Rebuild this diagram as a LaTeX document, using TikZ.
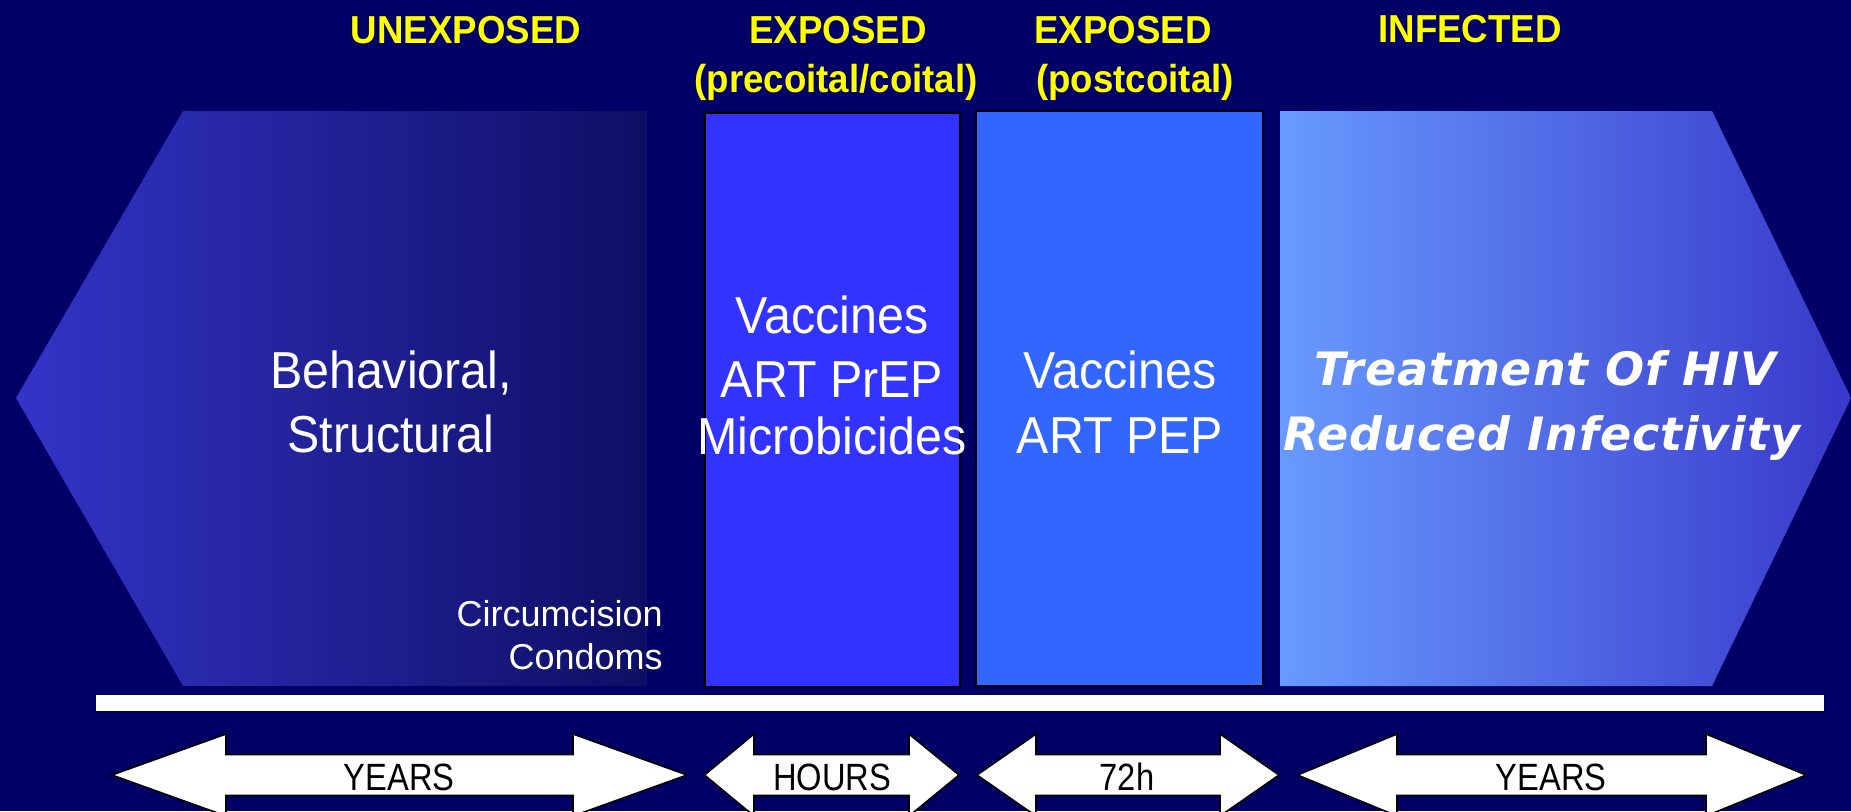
\documentclass[tikz,border=0pt]{standalone}
\usepackage{fontspec}
\setmainfont{Liberation Sans}
\newfontfamily\bodyfont[FakeStretch=0.93]{Liberation Sans}
\newfontfamily\smallfont{Liberation Sans}
\newfontfamily\headfont[FakeStretch=0.94]{Liberation Sans}
\newfontfamily\arrowfont[FakeStretch=0.86]{Liberation Sans}
\newfontfamily\italfont[LetterSpace=2]{DejaVu Sans}
\definecolor{bg}{RGB}{0,0,102}
\definecolor{hexL}{RGB}{52,52,200}
\definecolor{hexR}{RGB}{14,14,100}
\definecolor{boxA}{RGB}{51,51,255}
\definecolor{boxB}{RGB}{51,102,255}
\definecolor{penL}{RGB}{104,154,255}
\definecolor{penR}{RGB}{56,56,202}
\definecolor{headyellow}{RGB}{255,255,0}
\tikzset{
  phasebox/.style={draw=black, line width=1pt},
  timearrow/.style={fill=white, draw=black, line width=0.8pt, line join=miter},
  headtext/.style={text=headyellow, font=\headfont\bfseries\fontsize{19.5}{22}\selectfont, anchor=base, inner sep=0pt},
  bodytext/.style={text=white, font=\bodyfont\fontsize{26}{30}\selectfont, anchor=base, inner sep=0pt},
  smalltext/.style={text=white, font=\smallfont\fontsize{18}{21}\selectfont, anchor=base east, inner sep=0pt},
  italtext/.style={text=white, font=\italfont\bfseries\itshape\fontsize{23}{27}\selectfont, anchor=base, inner sep=0pt},
  arrowtext/.style={text=black, font=\arrowfont\fontsize{19}{22}\selectfont, anchor=base, inner sep=0pt}
}
\begin{document}
\begin{tikzpicture}[x=0.5pt,y=-0.5pt]
\fill[bg] (0,0) rectangle (1851,811);
\useasboundingbox (0,0) rectangle (1851,811);

% phase shapes
\shade[left color=hexL, right color=hexR] (16,398) -- (183,111) -- (647,111) -- (647,686) -- (183,686) -- cycle;
\fill[boxA] (705,113) rectangle (960,687);
\draw[phasebox] (705,113) rectangle (960,687);
\fill[boxB] (976,111) rectangle (1263,686);
\draw[phasebox] (976,111) rectangle (1263,686);
\shade[left color=penL, right color=penR] (1280,111) -- (1712,111) -- (1851,398) -- (1712,686) -- (1280,686) -- cycle;

% white timeline bar
\fill[white] (96,695) rectangle (1824,711);

% headings
\node[headtext] (unexp) at (466,43) {UNEXPOSED};
\node[headtext] (exp1) at (838,43) {EXPOSED};
\node[headtext] (exp1b) at (836,92) {(precoital/coital)};
\node[headtext] (exp2) at (1123,43) {EXPOSED};
\node[headtext] (exp2b) at (1135,92) {(postcoital)};
\node[headtext] (inf) at (1470,42) {INFECTED};

% texts in shapes
\node[bodytext] (beh1) at (391,388) {Behavioral,};
\node[bodytext] (beh2) at (391,452) {Structural};
\node[smalltext] (circ) at (663,626) {Circumcision};
\node[smalltext] (cond) at (663,669) {Condoms};

\node[bodytext] (pa1) at (832,333) {Vaccines};
\node[bodytext] (pa2) at (832,397) {ART PrEP};
\node[bodytext] (pa3) at (832,454) {Microbicides};

\node[bodytext] (pb1) at (1120,388) {Vaccines};
\node[bodytext] (pb2) at (1120,453) {ART PEP};

\node[italtext] (tr1) at (1545,385) {Treatment Of HIV};
\node[italtext] (tr2) at (1542,450) {Reduced Infectivity};

% double arrows (clipped by the bottom edge)
\begin{scope}
\clip (0,0) rectangle (1851,811);
\draw[timearrow] (112,775) -- (226,734) -- (226,754.5) -- (573,754.5) -- (573,734) -- (687,775) -- (573,816) -- (573,795.5) -- (226,795.5) -- (226,816) -- cycle;
\draw[timearrow] (704.5,775) -- (754,734) -- (754,754.5) -- (909,754.5) -- (909,734) -- (959,775) -- (909,816) -- (909,795.5) -- (754,795.5) -- (754,816) -- cycle;
\draw[timearrow] (977,775) -- (1036,734) -- (1036,754.5) -- (1220,754.5) -- (1220,734) -- (1279,775) -- (1220,816) -- (1220,795.5) -- (1036,795.5) -- (1036,816) -- cycle;
\draw[timearrow] (1297.5,775) -- (1397,734) -- (1397,754.5) -- (1706,754.5) -- (1706,734) -- (1806,775) -- (1706,816) -- (1706,795.5) -- (1397,795.5) -- (1397,816) -- cycle;
\end{scope}
\node[arrowtext] (yr1) at (399,790) {YEARS};
\node[arrowtext] (hrs) at (832,790) {HOURS};
\node[arrowtext] (h72) at (1127,790) {72h};
\node[arrowtext] (yr2) at (1551,790) {YEARS};
\end{tikzpicture}
\end{document}
